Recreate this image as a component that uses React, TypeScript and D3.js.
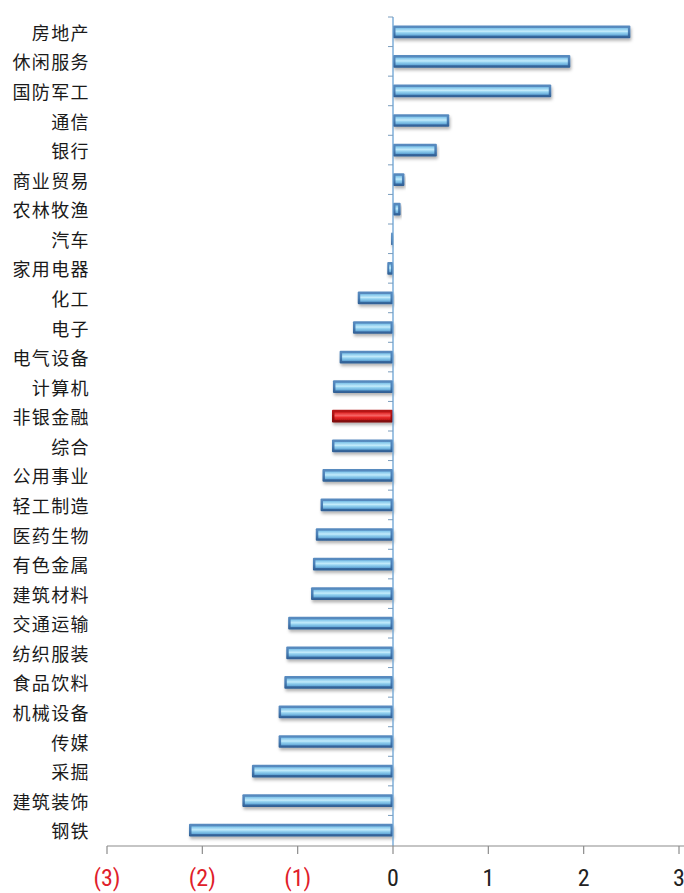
import { useMemo } from "react";
import { scaleBand, scaleLinear } from "d3";

// industries, top to bottom
const industries = [
	"房地产", "休闲服务", "国防军工", "通信", "银行", "商业贸易", "农林牧渔",
	"汽车", "家用电器", "化工", "电子", "电气设备", "计算机", "非银金融",
	"综合", "公用事业", "轻工制造", "医药生物", "有色金属", "建筑材料",
	"交通运输", "纺织服装", "食品饮料", "机械设备", "传媒", "采掘",
	"建筑装饰", "钢铁",
];
const changes = [
	2.49, 1.86, 1.66, 0.59, 0.46, 0.12, 0.08,
	-0.02, -0.06, -0.37, -0.42, -0.56, -0.63, -0.64,
	-0.64, -0.74, -0.76, -0.81, -0.84, -0.86,
	-1.1, -1.12, -1.14, -1.2, -1.2, -1.48,
	-1.58, -2.14,
];
const highlight = "非银金融";
const xTicks = [-3, -2, -1, 0, 1, 2, 3];
const xTickLabels = ["(3)", "(2)", "(1)", "0", "1", "2", "3"];

const W = 684;
const H = 893;

export default function App() {
	const x = useMemo(() => scaleLinear().domain([-3, 3]).range([107, 679]), []);
	const y = useMemo(
		() => scaleBand<string>().domain(industries).range([17, 845]).paddingInner(0.57).paddingOuter(0.285),
		[]
	);
	const bh = y.bandwidth();
	const step = y.step();
	const x0 = x(0);
	const axisY = 846;

	return (
		<svg width={W} height={H} style={{ position: "absolute", left: 0, top: 0, background: "#fff" }}>
			<defs>
				<linearGradient id="blueOuter" x1="0" y1="0" x2="0" y2="1">
					<stop offset="0" stopColor="#5a8cc0" />
					<stop offset="0.5" stopColor="#4a7fb6" />
					<stop offset="1" stopColor="#2e5d92" />
				</linearGradient>
				<linearGradient id="blueInner" x1="0" y1="0" x2="0" y2="1">
					<stop offset="0" stopColor="#79c0e8" />
					<stop offset="0.45" stopColor="#c4ecfb" />
					<stop offset="0.6" stopColor="#9ad6f2" />
					<stop offset="1" stopColor="#5fa5d6" />
				</linearGradient>
				<linearGradient id="redOuter" x1="0" y1="0" x2="0" y2="1">
					<stop offset="0" stopColor="#b81818" />
					<stop offset="0.5" stopColor="#a81010" />
					<stop offset="1" stopColor="#780808" />
				</linearGradient>
				<linearGradient id="redInner" x1="0" y1="0" x2="0" y2="1">
					<stop offset="0" stopColor="#e02424" />
					<stop offset="0.45" stopColor="#f86a6a" />
					<stop offset="0.6" stopColor="#ee3030" />
					<stop offset="1" stopColor="#c01414" />
				</linearGradient>
				<filter id="shadow" x="-5%" y="-40%" width="110%" height="200%">
					<feDropShadow dx="1" dy="2.5" stdDeviation="1.6" floodColor="#000" floodOpacity="0.3" />
				</filter>
			</defs>

			{/* bars */}
			{industries.map((name, i) => {
				const v = changes[i];
				const left = Math.min(x(v), x0);
				const w = Math.abs(x(v) - x0);
				const top = y(name) ?? 0;
				const red = name === highlight;
				const inset = Math.min(2.5, w / 3);
				return (
					<g key={name} filter="url(#shadow)">
						<rect x={left} y={top} width={w} height={bh} fill={red ? "url(#redOuter)" : "url(#blueOuter)"} rx={1} />
						{w > 3 && (
							<rect
								x={left + inset}
								y={top + 2.5}
								width={w - inset * 2}
								height={bh - 5}
								fill={red ? "url(#redInner)" : "url(#blueInner)"}
							/>
						)}
					</g>
				);
			})}

			{/* vertical (category) axis at zero */}
			<line x1={x0} x2={x0} y1={17} y2={axisY} stroke="#6aa2d4" strokeWidth={1.3} />
			{industries.map((name, i) => (
				<line key={"t" + name} x1={x0 - 5} x2={x0} y1={17 + i * step} y2={17 + i * step} stroke="#7a9cbc" strokeWidth={1} />
			))}

			{/* category labels */}
			{industries.map((name) => (
				<text
					key={"l" + name}
					x={90}
					y={(y(name) ?? 0) + bh / 2}
					textAnchor="end"
					dominantBaseline="central"
					fontFamily="'Noto Sans CJK SC', sans-serif"
					fontWeight={400}
					fontSize={18}
					letterSpacing={1.4}
					fill="#1a1a1a"
				>
					{name}
				</text>
			))}

			{/* value axis */}
			<line x1={x(-3)} x2={W} y1={axisY} y2={axisY} stroke="#8c8c8c" strokeWidth={1.2} />
			{xTicks.map((t, i) => (
				<g key={"x" + t}>
					<line x1={x(t)} x2={x(t)} y1={axisY} y2={axisY + 8} stroke="#8c8c8c" strokeWidth={1.2} />
					<text
						x={x(t)}
						y={axisY + 40}
						textAnchor="middle"
						fontFamily="'Liberation Sans Narrow', 'Roboto Condensed', sans-serif"
						fontSize={24}
						fill={t < 0 ? "#e0202a" : "#222"}
					>
						{xTickLabels[i]}
					</text>
				</g>
			))}
		</svg>
	);
}
